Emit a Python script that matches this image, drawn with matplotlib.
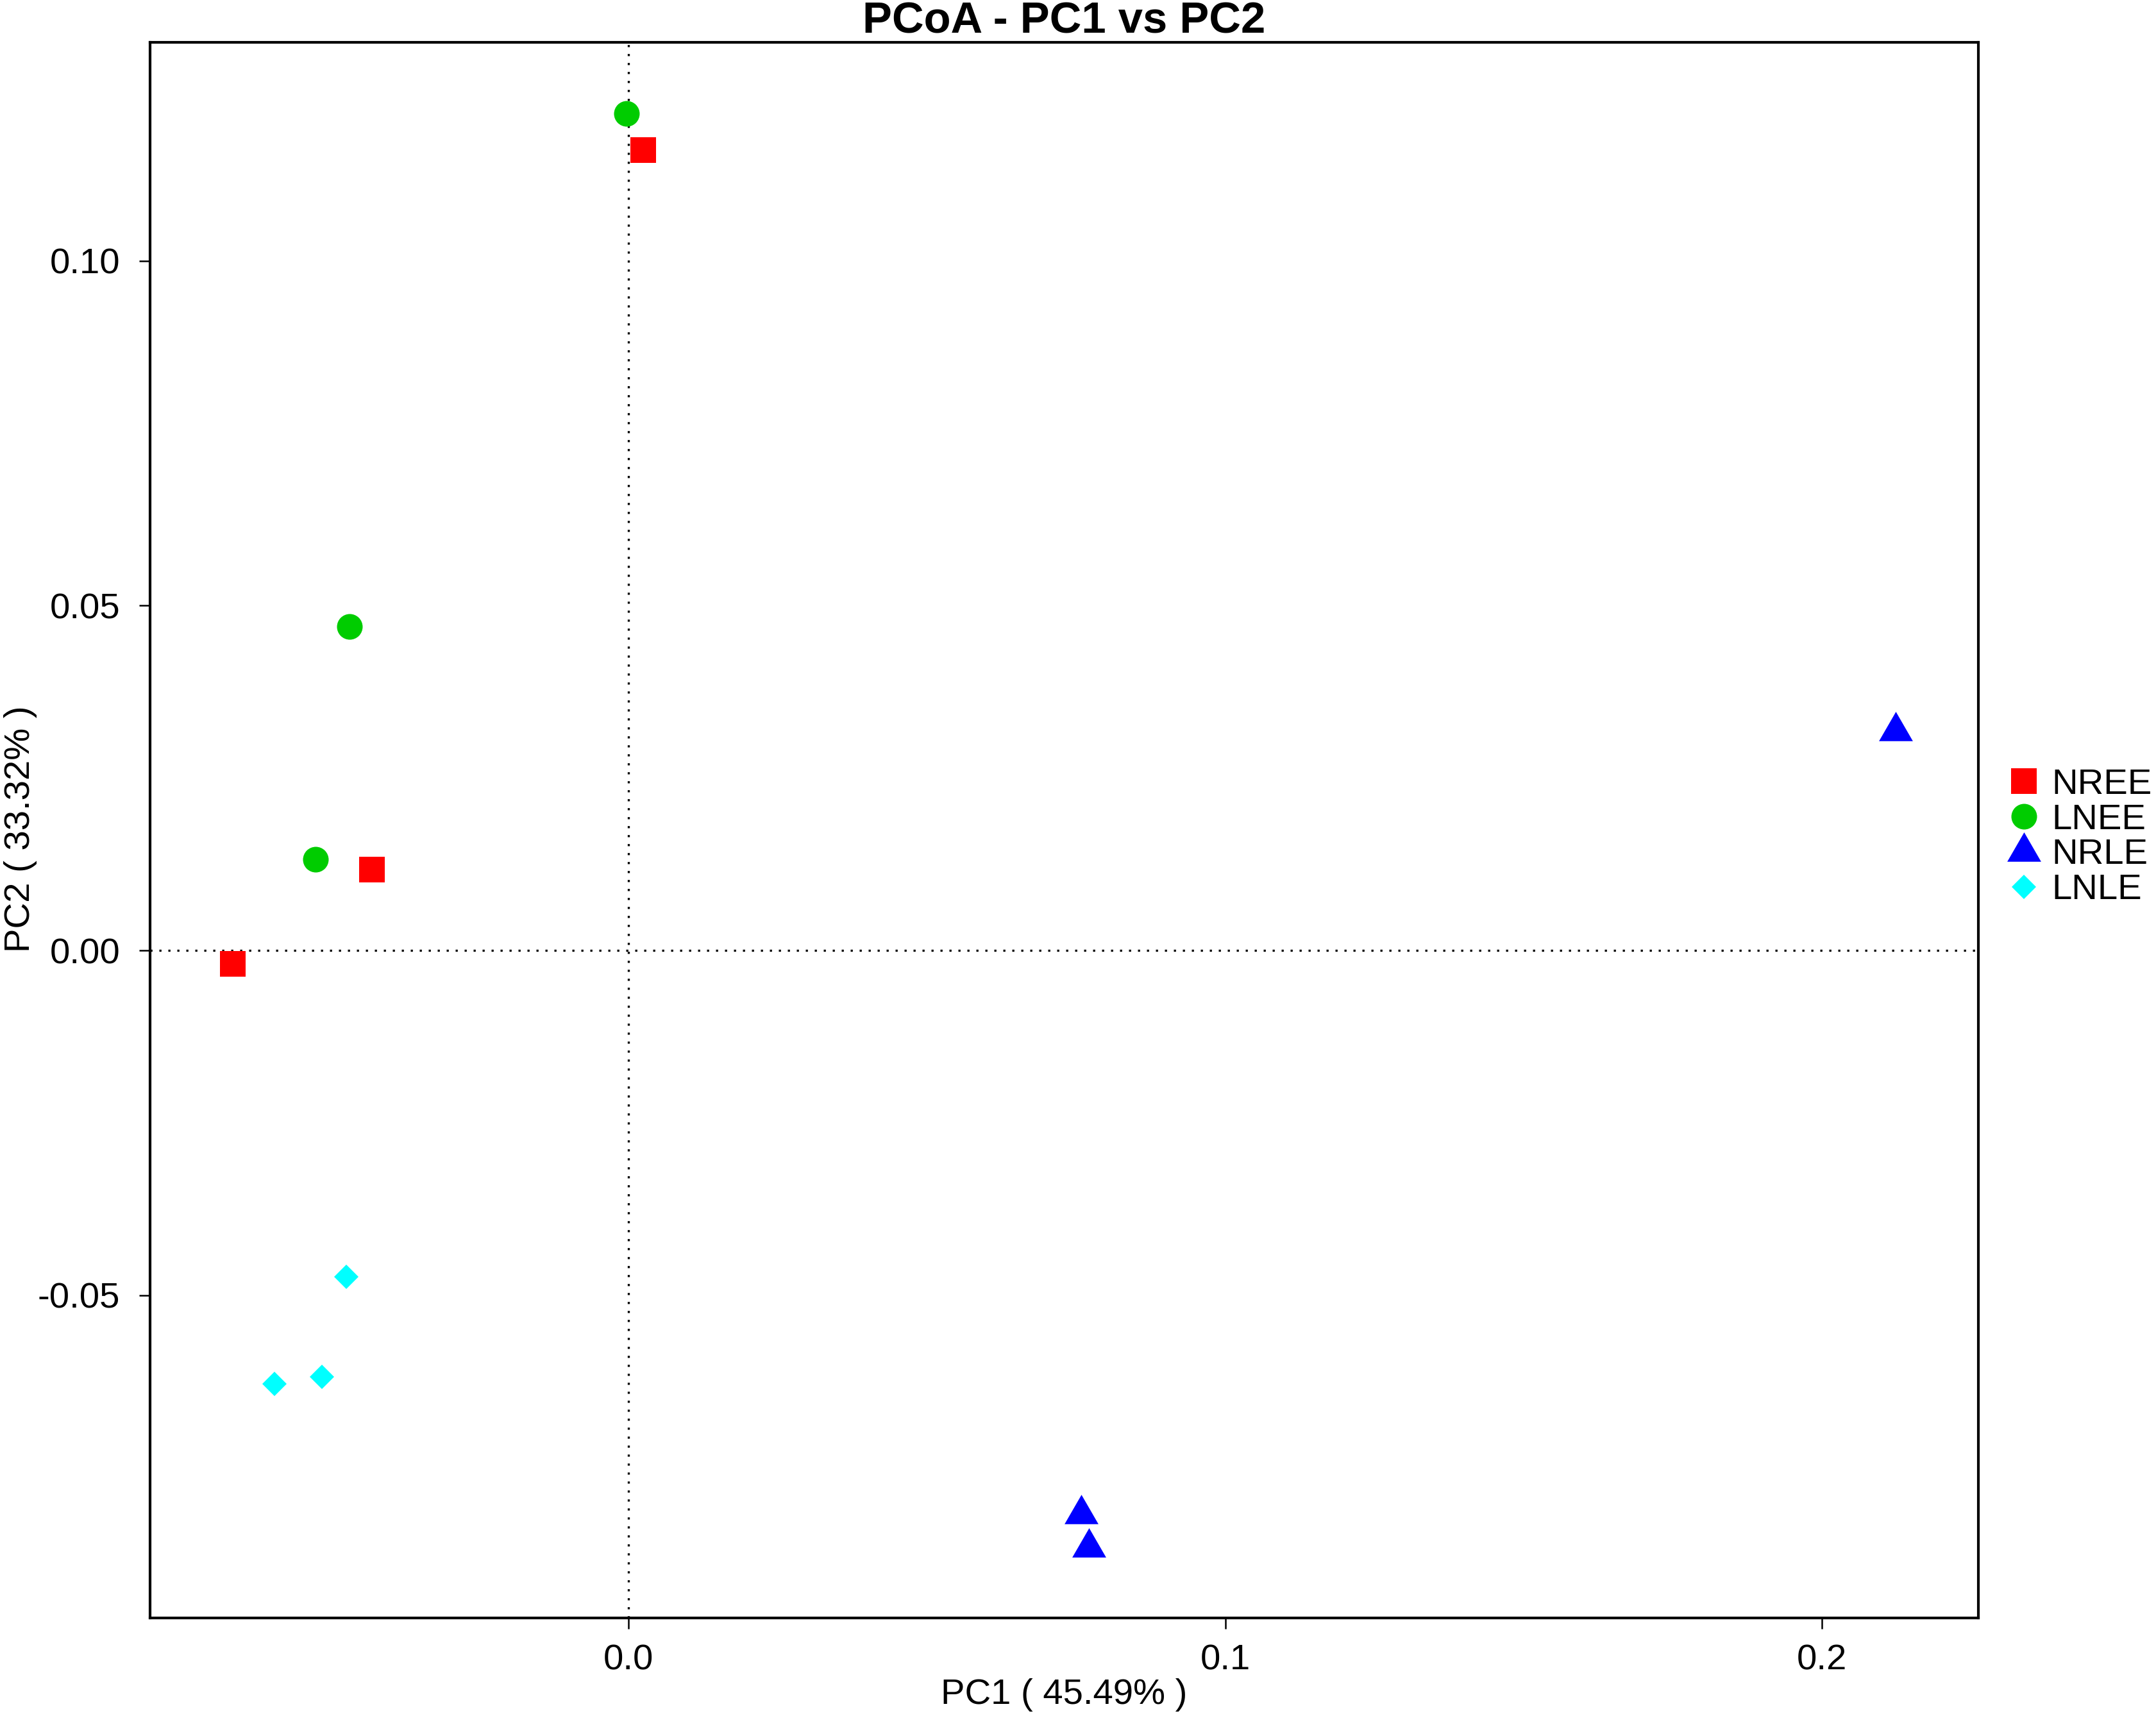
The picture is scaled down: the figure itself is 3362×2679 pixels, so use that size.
import matplotlib
matplotlib.use("Agg")
import matplotlib.pyplot as plt
from matplotlib.path import Path
from matplotlib.lines import Line2D
import numpy as np

plt.rcParams['font.family'] = ['Liberation Sans', 'DejaVu Sans']

groups = ["NREE", "LNEE", "NRLE", "LNLE"]
colors = ["#FF0000", "#00CC00", "#0000FF", "#00FFFF"]

nree_x = [0.0024, -0.0430, -0.0663]
nree_y = [0.1161, 0.0117, -0.0019]
lnee_x = [-0.0004, -0.0468, -0.0525]
lnee_y = [0.1214, 0.0470, 0.0132]
nrle_x = [0.0759, 0.0771, 0.2123]
nrle_y = [-0.0817, -0.0866, 0.0318]
lnle_x = [-0.0473, -0.0514, -0.0594]
lnle_y = [-0.0473, -0.0618, -0.0629]

xticks = [0.0, 0.1, 0.2]
xticklabels = ["0.0", "0.1", "0.2"]
yticks = [-0.05, 0.0, 0.05, 0.10]
yticklabels = ["-0.05", "0.00", "0.05", "0.10"]

title = "PCoA - PC1 vs PC2"
xlabel = "PC1 ( 45.49% )"
ylabel = "PC2 ( 33.32% )"

W, H, DPI = 3362, 2679, 300
fig = plt.figure(figsize=(W / DPI, H / DPI), dpi=DPI)
ax = fig.add_axes([234 / W, 1 - 2523 / H, (3085 - 234) / W, (2523 - 66) / H])

# equilateral triangle marker centred on its centroid (like R pch 17)
tri = Path([(0, 1), (-0.866, -0.5), (0.866, -0.5), (0, 1)],
           [Path.MOVETO, Path.LINETO, Path.LINETO, Path.CLOSEPOLY])

px = 72 / DPI  # points per pixel
styles = [
    dict(marker="s", ms=40 * px),
    dict(marker="o", ms=40 * px),
    dict(marker=tri, ms=61 * px),
    dict(marker="D", ms=27.5 * px),
]
data = [(nree_x, nree_y), (lnee_x, lnee_y), (nrle_x, nrle_y), (lnle_x, lnle_y)]

ax.axvline(0, color="black", lw=0.8, ls=(0, (1, 3.2)), zorder=1)
ax.axhline(0, color="black", lw=0.8, ls=(0, (1, 3.2)), zorder=1)

handles = []
for (xs, ys), st, c, g in zip(data, styles, colors, groups):
    ax.plot(xs, ys, ls="none", marker=st["marker"], ms=st["ms"],
            mfc=c, mec="none", zorder=3)
    handles.append(Line2D([], [], ls="none", marker=st["marker"], ms=st["ms"],
                          mfc=c, mec="none", label=g))

ax.set_xlim(-0.0802, 0.2262)
ax.set_ylim(-0.0968, 0.1317)
ax.set_xticks(xticks)
ax.set_xticklabels(xticklabels)
ax.set_yticks(yticks)
ax.set_yticklabels(yticklabels)
ax.tick_params(axis="both", direction="out", length=17 * px, width=0.6,
               labelsize=13.5, color="black")
ax.tick_params(axis="y", pad=30 * px)
ax.tick_params(axis="x", pad=24 * px)
for s in ax.spines.values():
    s.set_linewidth(1.0)

fig.text(1659 / W, 1 - 33 / H, title, ha="center", va="center",
         fontsize=16.5, fontweight="bold")
fig.text(1659 / W, 1 - 2643 / H, xlabel, ha="center", va="center", fontsize=13.5)
fig.text(32 / W, 1 - 1293 / H, ylabel, ha="center", va="center",
         rotation=90, fontsize=13.5)

leg = ax.legend(handles=handles, loc="center left",
                bbox_to_anchor=(3128 / W, 1 - 1306 / H),
                bbox_transform=fig.transFigure, frameon=False,
                fontsize=13.5, handlelength=1.0, handletextpad=0.27,
                borderpad=0, borderaxespad=0, labelspacing=0.05)

fig.savefig("out.png", dpi=DPI, facecolor="white")
